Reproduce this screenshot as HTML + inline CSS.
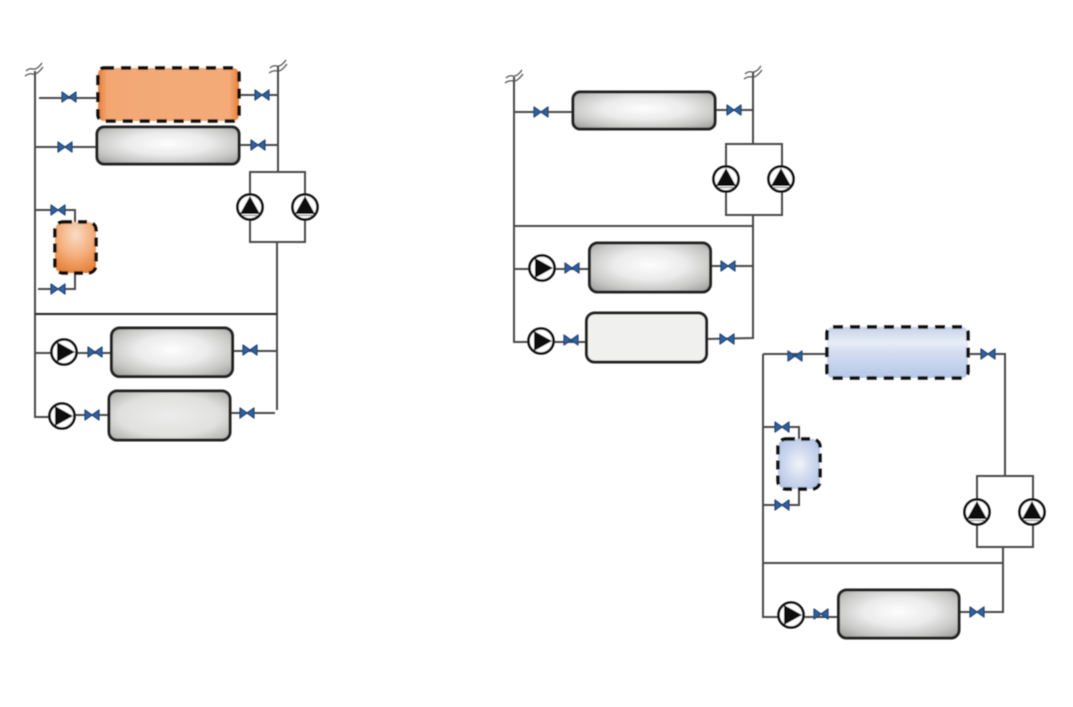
<!DOCTYPE html>
<html><head><meta charset="utf-8"><style>html,body{margin:0;padding:0;background:#fff}svg{display:block}</style></head><body>
<svg xmlns="http://www.w3.org/2000/svg" width="1073" height="707" viewBox="0 0 1073 707">
<defs>
<radialGradient id="g" cx="50%" cy="45%" r="66%"><stop offset="0" stop-color="#fdfdfd"/><stop offset=".45" stop-color="#ebebeb"/><stop offset=".8" stop-color="#c6c6c5"/><stop offset="1" stop-color="#a6a6a4"/></radialGradient>
<radialGradient id="g2" cx="50%" cy="50%" r="70%"><stop offset="0" stop-color="#ececec"/><stop offset=".6" stop-color="#e0e0df"/><stop offset="1" stop-color="#a8a8a6"/></radialGradient>
<linearGradient id="o" x1="0" x2="1" y1="0" y2="0"><stop offset="0" stop-color="#e67f38"/><stop offset=".07" stop-color="#f3a873"/><stop offset=".93" stop-color="#f4ab78"/><stop offset="1" stop-color="#e67f38"/></linearGradient>
<radialGradient id="os" cx="50%" cy="25%" r="80%"><stop offset="0" stop-color="#f9dcc6"/><stop offset=".55" stop-color="#f3ac78"/><stop offset="1" stop-color="#e57d35"/></radialGradient>
<linearGradient id="b" x1="0" x2="0" y1="0" y2="1"><stop offset="0" stop-color="#c5d2ea"/><stop offset=".3" stop-color="#e8edf7"/><stop offset=".5" stop-color="#d3ddf0"/><stop offset="1" stop-color="#b6c8e6"/></linearGradient>
<radialGradient id="bs" cx="50%" cy="50%" r="65%"><stop offset="0" stop-color="#f0f4fa"/><stop offset=".5" stop-color="#ced9ee"/><stop offset="1" stop-color="#b0c3e3"/></radialGradient>
<g id="v"><path d="M-7,-5 L0,0 L-7,5 Z M7,-5 L0,0 L7,5 Z" fill="#2f62a3" stroke="#24456f" stroke-width="1.2" stroke-linejoin="round"/></g>
<g id="pu"><circle r="12.5" fill="#fff" stroke="#111" stroke-width="2.6"/><path d="M0,-11 L10,7 L-10,7 Z" fill="#111"/><path d="M-7.500,8.500 H7.500" stroke="#777" stroke-width="1"/></g>
<g id="pr"><circle r="12.5" fill="#fff" stroke="#111" stroke-width="2.6"/><path d="M-7,-10 L11,0 L-7,10 Z" fill="#111"/></g>
<g id="sq" fill="none" stroke="#555" stroke-width="1.3"><path d="M-9,-1 Q-6,-4 -2,-3 T7,-9"/><path d="M-10,4 Q-6,1 -2,2 T8,-5"/></g>
<filter id="bl" x="-2%" y="-2%" width="104%" height="104%"><feGaussianBlur stdDeviation="0.5"/></filter>
</defs>
<g filter="url(#bl)">
<g fill="none" stroke="#4a4a4a" stroke-width="2">
<path d="M35,71 V417 H50"/>
<path d="M39,98 H98 M239,95 H278 M35,147 H97 M239,145 H278"/>
<path d="M278,66 V172 M250,242 V172 H305 V242 Z M277,242 V410"/>
<path d="M35,314 H277" stroke="#222"/>
<path d="M35,210 H75 V223 M38,289 H75 V272"/>
<path d="M35,353 H111 M233,351 H277 M109,415 H50 M230,413 H275"/>
<path d="M514,77 V342 H586 M514,112 H573 M715,110 H753 M753,72 V144"/>
<path d="M726,144 H782 V215 H726 Z M753,215 V338 L707,339"/>
<path d="M514,226 H753 M514,269 H589 M711,266 H753"/>
<path d="M763,354 V617 H838 M763,354 H826 M968,354 H1005 V476"/>
<path d="M977,476 H1033 V547 H977 Z M1003,547 V612 H959 M763,563 H1003"/>
<path d="M763,427 H799 V439 M763,505 H799 V489"/>
</g>
<g stroke="#222" stroke-width="3">
<rect x="97" y="127" width="142" height="37" rx="7" fill="url(#g)"/>
<rect x="111.500" y="328" width="121" height="48.500" rx="8" fill="url(#g)"/>
<rect x="109" y="391" width="121" height="49" rx="8" fill="url(#g2)"/>
<rect x="573" y="92" width="142" height="37" rx="7" fill="url(#g)"/>
<rect x="589.500" y="243" width="121" height="49" rx="8" fill="url(#g)"/>
<rect x="586.500" y="313" width="120" height="49" rx="8" fill="#f0f0ee"/>
<rect x="838.500" y="590" width="120.500" height="48" rx="8" fill="url(#g)"/>
</g>
<g stroke="#111" stroke-width="3.400" stroke-dasharray="10 7">
<rect x="98" y="68" width="141" height="53" rx="6" fill="url(#o)"/>
<rect x="55" y="222" width="41" height="51" rx="8" fill="url(#os)" stroke-dasharray="9 6"/>
<rect x="827" y="327" width="141" height="51" rx="6" fill="url(#b)"/>
<rect x="778" y="439" width="42" height="50" rx="8" fill="url(#bs)" stroke-dasharray="9 6"/>
</g>
<use href="#v" x="69" y="97"/><use href="#v" x="262" y="95"/><use href="#v" x="65" y="147"/><use href="#v" x="258" y="145"/>
<use href="#v" x="58" y="210"/><use href="#v" x="58" y="289"/><use href="#v" x="95" y="352"/><use href="#v" x="250" y="350"/>
<use href="#v" x="92" y="415"/><use href="#v" x="247" y="413"/>
<use href="#v" x="541" y="112"/><use href="#v" x="734" y="110"/><use href="#v" x="572" y="268"/><use href="#v" x="728" y="266"/>
<use href="#v" x="571" y="340"/><use href="#v" x="727" y="339"/>
<use href="#v" x="795" y="356"/><use href="#v" x="988" y="354"/><use href="#v" x="782" y="427"/><use href="#v" x="782" y="505"/>
<use href="#v" x="821" y="614"/><use href="#v" x="977" y="612"/>
<use href="#pu" x="250" y="207"/><use href="#pu" x="305" y="207"/>
<use href="#pr" x="64" y="352"/><use href="#pr" x="62" y="416"/>
<use href="#pu" x="726" y="179"/><use href="#pu" x="781" y="179"/>
<use href="#pr" x="542" y="268"/><use href="#pr" x="541" y="341"/>
<use href="#pu" x="977" y="512"/><use href="#pu" x="1032" y="512"/>
<use href="#pr" x="791" y="615"/>
<use href="#sq" x="35" y="72"/><use href="#sq" x="279" y="69"/><use href="#sq" x="515" y="79"/><use href="#sq" x="754" y="75"/>
</g>
</svg>
</body></html>
